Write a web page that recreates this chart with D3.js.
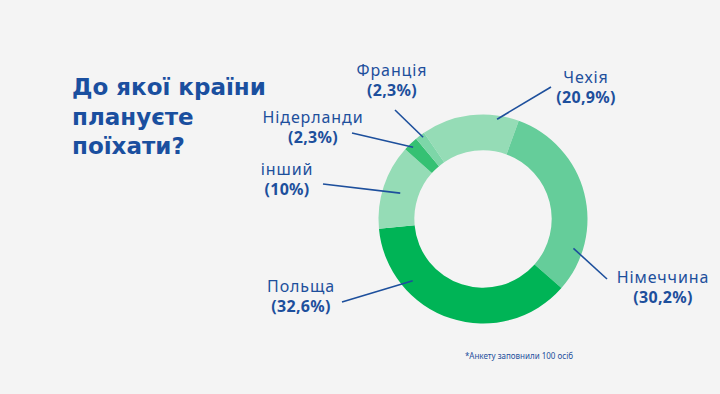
<!DOCTYPE html>
<html><head><meta charset="utf-8">
<script src="https://cdn.jsdelivr.net/npm/d3@7"></script>
<style>
html,body{margin:0;padding:0;background:#f4f4f4;}
svg{display:block;}
</style></head>
<body>
<svg id="chart" width="720" height="394"></svg>
<script>
// ---- data ----
const categories = ["Чехія", "Німеччина", "Польща", "інший", "Нідерланди", "Франція"];
// arc shares as drawn in the picture (percent of the ring)
const shares = [15.1, 30.9, 37.0, 13.1, 2.3, 1.5];
// percentages printed in the labels
const labelPercents = ["20,9%", "30,2%", "32,6%", "10%", "2,3%", "2,3%"];
const titleLines = ["До якої країни", "плануєте", "поїхати?"];
const footnote = "*Анкету заповнили 100 осіб";

// ---- styles / layout ----
const colors = ["#95dcb6", "#65cd9a", "#00b456", "#95dcb6", "#35c173", "#7dd6a8"];
const textBlue = "#1d4f9c";
const cx = 483, cy = 219, outerR = 104.5, innerR = 68.7;
const startDeg = -34.4;
// leader-line layout: fraction along its slice, radius, line end, label centre & baseline
const labelLayout = [
  {frac: 0.78, r: 100.8, end: [551, 87],  lx: 586, ly: 83},
  {frac: 0.79, r: 95.1,  end: [607, 279], lx: 663, ly: 283},
  {frac: 0.73, r: 93.5,  end: [342, 302], lx: 301, ly: 292},
  {frac: 0.48, r: 86.7,  end: [323, 184], lx: 287, ly: 175},
  {frac: 0.46, r: 100.1, end: [352, 133], lx: 313, ly: 123},
  {frac: 0.66, r: 101.3, end: [395, 110], lx: 392, ly: 76}
];

const svg = d3.select("#chart");
svg.append("rect").attr("width", 720).attr("height", 394).attr("fill", "#f4f4f4");

const pie = d3.pie().sort(null).value(d => d)
  .startAngle(startDeg * Math.PI / 180)
  .endAngle(startDeg * Math.PI / 180 + 2 * Math.PI);
const arcs = pie(shares);
const arc = d3.arc().innerRadius(innerR).outerRadius(outerR);

const g = svg.append("g").attr("transform", `translate(${cx},${cy})`);
g.selectAll("path").data(arcs).join("path")
  .attr("d", arc)
  .attr("fill", (d, i) => colors[i]);

// leader lines and labels
arcs.forEach((a, i) => {
  const L = labelLayout[i];
  const ang = a.startAngle + (a.endAngle - a.startAngle) * L.frac;
  const x1 = cx + L.r * Math.sin(ang), y1 = cy - L.r * Math.cos(ang);
  svg.append("line")
    .attr("x1", L.end[0]).attr("y1", L.end[1])
    .attr("x2", x1).attr("y2", y1)
    .attr("stroke", "#1d4f9c").attr("stroke-width", 1.6);
  svg.append("text")
    .attr("x", L.lx).attr("y", L.ly)
    .attr("text-anchor", "middle")
    .attr("font-family", "'Noto Sans', 'Open Sans', sans-serif")
    .attr("font-size", 16).attr("fill", textBlue)
    .attr("letter-spacing", 0.9)
    .text(categories[i]);
  svg.append("text")
    .attr("x", L.lx).attr("y", L.ly + 20)
    .attr("text-anchor", "middle")
    .attr("font-family", "'Noto Sans', 'Open Sans', sans-serif")
    .attr("font-size", 16).attr("font-weight", 700).attr("fill", textBlue)
    .attr("letter-spacing", 0.3)
    .text("(" + labelPercents[i] + ")");
});

// title
svg.append("g").selectAll("text").data(titleLines).join("text")
  .attr("x", 72).attr("y", (d, i) => 95 + i * 29.5)
  .attr("font-family", "'DejaVu Sans', sans-serif")
  .attr("font-size", 23).attr("font-weight", 700).attr("fill", "#1a4f9f")
  .text(d => d);

// footnote
svg.append("text")
  .attr("x", 519).attr("y", 359).attr("text-anchor", "middle")
  .attr("font-family", "'Noto Sans', 'Open Sans', sans-serif")
  .attr("font-size", 8).attr("fill", textBlue)
  .text(footnote);
</script>
</body></html>
